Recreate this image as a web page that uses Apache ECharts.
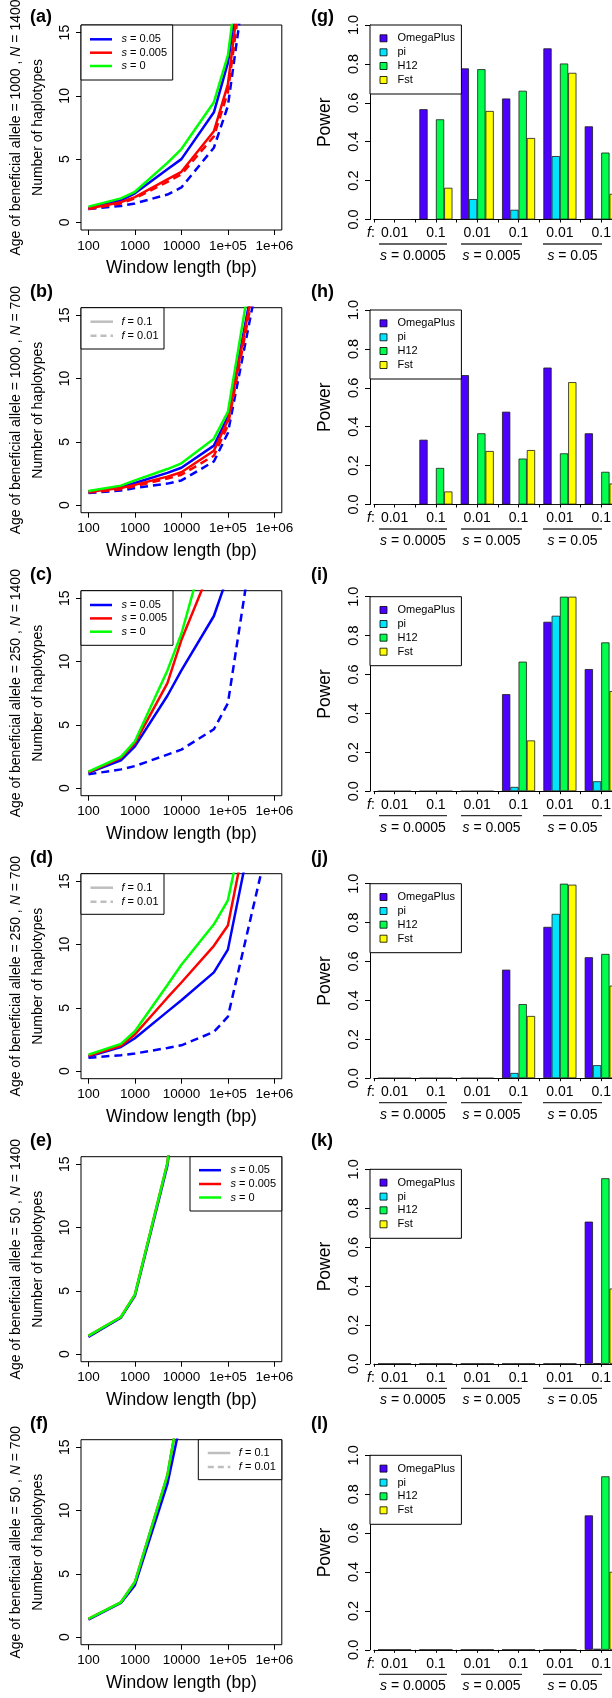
<!DOCTYPE html>
<html>
<head>
<meta charset="utf-8">
<script src="https://cdn.jsdelivr.net/npm/echarts@6/dist/echarts.min.js"></script>
<style>
  html, body { margin: 0; padding: 0; background: #fff; }
  #chart { width: 612px; height: 1698px; }
</style>
</head>
<body>
<div id="chart"></div>
<script>
const FONT = '"Liberation Sans", Arial, Helvetica, sans-serif';
const BLUE = '#0000FF', RED = '#FF0000', GREEN = '#00FF00', GREY = '#BEBEBE';

// window lengths (bp)
const winLen = [100, 500, 1000, 5000, 10000, 50000, 100000, 500000];

// (a) age 1000, N 1400
const a_s05_f1 = [1.15, 1.75, 2.3, 4.2, 5.0, 8.7, 12.6, 30.1];
const a_s05_f01 = [1.05, 1.3, 1.5, 2.2, 2.76, 5.9, 9.2, 27.8];
const a_s005_f1 = [1.1, 1.6, 2.0, 3.4, 4.0, 7.2, 10.9, 31.4];
const a_s005_f01 = [1.05, 1.5, 1.9, 3.2, 3.8, 6.8, 10.3, 29.8];
const a_s0 = [1.25, 1.9, 2.42, 4.7, 5.8, 9.5, 13.2, 32.7];
// (b) age 1000, N 700
const b_s05_f1 = [1.08, 1.42, 1.75, 2.55, 2.95, 4.7, 6.98, 20.7];
const b_s05_f01 = [0.95, 1.15, 1.35, 1.7, 1.95, 3.45, 5.7, 18.9];
const b_s005_f1 = [1.05, 1.35, 1.6, 2.25, 2.6, 4.3, 6.7, 20.3];
const b_s005_f01 = [1.0, 1.25, 1.5, 2.1, 2.4, 3.9, 6.3, 19.8];
const b_s0 = [1.12, 1.54, 1.95, 2.85, 3.3, 5.25, 7.37, 22.8];
// (c) age 250, N 1400
const c_s05_f1 = [1.2, 2.2, 3.3, 7.3, 9.3, 13.6, 16.8, null];
const c_s05_f01 = [1.09, 1.48, 1.74, 2.65, 3.04, 4.65, 6.7, 23.4];
const c_s005_f1 = [1.25, 2.4, 3.55, 8.3, 11.7, 18.0, null, null];
const c_s0 = [1.3, 2.47, 3.7, 9.3, 12.2, 21.4, null, null];
// (d) age 250, N 700
const d_s05_f1 = [1.15, 1.9, 2.6, 4.7, 5.6, 7.8, 9.6, 22.3];
const d_s05_f01 = [1.05, 1.26, 1.39, 1.83, 2.04, 3.1, 4.3, 15.4];
const d_s005_f1 = [1.2, 2.0, 2.9, 5.8, 7.0, 9.9, 11.5, 24.4];
const d_s0 = [1.3, 2.15, 3.15, 6.8, 8.4, 11.6, 13.5, 25.6];
// (e) age 50, N 1400
const e_s05 = [1.35, 2.88, 4.6, 14.9, 24, null, null, null];
const e_s005 = [1.44, 2.93, 4.7, 15.1, 25, null, null, null];
const e_s0 = [1.44, 2.93, 4.7, 15.1, 25, null, null, null];
// (f) age 50, N 700
const f_s05 = [1.38, 2.7, 4.1, 12.1, 17.3, null, null, null];
const f_s005 = [1.44, 2.75, 4.35, 12.8, 19.1, null, null, null];
const f_s0 = [1.44, 2.75, 4.35, 12.8, 19.1, null, null, null];

// power bar charts: groups are (s, f) pairs
const groupF = ['0.01', '0.1', '0.01', '0.1', '0.01', '0.1'];
const groupS = ['0.0005', '0.005', '0.05'];
const methods = ['OmegaPlus', 'pi', 'H12', 'Fst'];
const methodColors = ['#4C00FF', '#00E5FF', '#00FF4D', '#FFFF00'];

const g_omega = [0, 0.567, 0.777, 0.622, 0.88, 0.479];
const g_pi = [0, 0, 0.105, 0.05, 0.326, 0.003];
const g_h12 = [0, 0.515, 0.773, 0.662, 0.802, 0.344];
const g_fst = [0, 0.163, 0.558, 0.419, 0.754, 0.132];

const h_omega = [0, 0.333, 0.665, 0.477, 0.704, 0.366];
const h_pi = [0, 0, 0, 0, 0, 0];
const h_h12 = [0, 0.188, 0.366, 0.236, 0.263, 0.168];
const h_fst = [0, 0.067, 0.275, 0.28, 0.629, 0.108];

const i_omega = [0, 0, 0, 0.499, 0.871, 0.628];
const i_pi = [0, 0, 0, 0.022, 0.902, 0.051];
const i_h12 = [0, 0, 0, 0.666, 1.0, 0.765];
const i_fst = [0, 0, 0, 0.261, 1.0, 0.515];

const j_omega = [0, 0, 0, 0.558, 0.778, 0.622];
const j_pi = [0, 0, 0, 0.027, 0.845, 0.067];
const j_h12 = [0, 0, 0, 0.381, 1.0, 0.639];
const j_fst = [0, 0, 0, 0.32, 0.995, 0.476];

const k_omega = [0, 0, 0, 0, 0, 0.731];
const k_pi = [0, 0, 0, 0, 0, 0.003];
const k_h12 = [0, 0, 0, 0, 0, 0.954];
const k_fst = [0, 0, 0, 0, 0, 0.387];

const l_omega = [0, 0, 0, 0, 0, 0.691];
const l_pi = [0, 0, 0, 0, 0, 0.005];
const l_h12 = [0, 0, 0, 0, 0, 0.892];
const l_fst = [0, 0, 0, 0, 0, 0.401];

const sLegend = ['0.05', '0.005', '0'];
const sLegendColors = [BLUE, RED, GREEN];
const fLegend = ['0.1', '0.01'];
const logLabels = { 2: '100', 3: '1000', 4: '10000', 5: '1e+05', 6: '1e+06' };

// layout (px)
const leftTops = [25, 307.7, 590.7, 873.7, 1156.7, 1439.7];
const rightTops = [25, 310, 596.7, 883.7, 1169.3, 1455.3];
const BOX_L = 81, BOX_W = 200.8, BOX_H = 205;
const LOG_MIN = 1.84, LOG_MAX = 6.16, Y_MIN = -0.6, Y_MAX = 15.6;
const PAD_X = BOX_W * (2 - LOG_MIN) / (LOG_MAX - LOG_MIN);
const PAD_Y = BOX_H * (0 - Y_MIN) / (Y_MAX - Y_MIN);
const BAR_L = 373.9, BAR_W = 248, BAR_H = 194.5, BAR_AXIS_X = 370;

const leftPanels = [
  { tag: '(a)', age: '1000', n: '1400', legend: 's', lg: [81, 91.7, 55, [14.3, 27.7, 41]],
    lines: [[a_s05_f01, BLUE, true], [a_s005_f01, RED, true], [a_s05_f1, BLUE, false], [a_s005_f1, RED, false], [a_s0, GREEN, false]] },
  { tag: '(b)', age: '1000', n: '700', legend: 'f', lg: [81, 83, 41.3, [14, 28]],
    lines: [[b_s05_f01, BLUE, true], [b_s005_f01, RED, true], [b_s05_f1, BLUE, false], [b_s005_f1, RED, false], [b_s0, GREEN, false]] },
  { tag: '(c)', age: '250', n: '1400', legend: 's', lg: [81, 92, 54.6, [14.3, 27.7, 41]],
    lines: [[c_s05_f01, BLUE, true], [c_s05_f1, BLUE, false], [c_s005_f1, RED, false], [c_s0, GREEN, false]] },
  { tag: '(d)', age: '250', n: '700', legend: 'f', lg: [81, 83, 40.6, [14, 28]],
    lines: [[d_s05_f01, BLUE, true], [d_s05_f1, BLUE, false], [d_s005_f1, RED, false], [d_s0, GREEN, false]] },
  { tag: '(e)', age: '50', n: '1400', legend: 's', lg: [190, 91.8, 54.3, [13.5, 27.3, 40.8]],
    lines: [[e_s05, BLUE, false], [e_s005, RED, false], [e_s0, GREEN, false]] },
  { tag: '(f)', age: '50', n: '700', legend: 'f', lg: [198.3, 83.5, 40, [13.3, 27.3]],
    lines: [[f_s05, BLUE, false], [f_s005, RED, false], [f_s0, GREEN, false]] }
];

const rightPanels = [
  { tag: '(g)', vals: [g_omega, g_pi, g_h12, g_fst] },
  { tag: '(h)', vals: [h_omega, h_pi, h_h12, h_fst] },
  { tag: '(i)', vals: [i_omega, i_pi, i_h12, i_fst] },
  { tag: '(j)', vals: [j_omega, j_pi, j_h12, j_fst] },
  { tag: '(k)', vals: [k_omega, k_pi, k_h12, k_fst] },
  { tag: '(l)', vals: [l_omega, l_pi, l_h12, l_fst] }
];

const grids = [], xAxes = [], yAxes = [], series = [], graphic = [];

function richText(x, y, str, size, rot, align) {
  graphic.push({
    type: 'text', x: x, y: y, rotation: rot || 0, z: 100, silent: true,
    style: {
      text: str, fill: '#000', align: align || 'center', verticalAlign: 'middle',
      fontSize: size, fontFamily: FONT,
      rich: {
        i: { fontSize: size, fontFamily: FONT, fontStyle: 'italic', fill: '#000' },
        n: { fontSize: size, fontFamily: FONT, fill: '#000' }
      }
    }
  });
}
function line(x1, y1, x2, y2, color, width, dash) {
  graphic.push({
    type: 'line', z: 100, silent: true,
    shape: { x1: x1, y1: y1, x2: x2, y2: y2 },
    style: { stroke: color, lineWidth: width, lineDash: dash || null }
  });
}
function rect(x, y, w, h, fill, stroke, lw) {
  graphic.push({
    type: 'rect', z: 99, silent: true,
    shape: { x: x, y: y, width: w, height: h },
    style: { fill: fill, stroke: stroke, lineWidth: lw }
  });
}

function labelY(k) { return k === 0 ? 17 : leftTops[k] - 15.5; }

leftPanels.forEach(function (p, k) {
  const T = leftTops[k];
  // frame grid holding the data
  const gBox = grids.length;
  grids.push({ left: BOX_L, top: T, width: BOX_W, height: BOX_H, show: true, outerBoundsMode: 'none',
    borderColor: '#000', borderWidth: 1, backgroundColor: 'transparent' });
  xAxes.push({ gridIndex: gBox, type: 'log', min: Math.pow(10, LOG_MIN), max: Math.pow(10, LOG_MAX), show: false });
  yAxes.push({ gridIndex: gBox, type: 'value', min: Y_MIN, max: Y_MAX, show: false });
  const xi = xAxes.length - 1, yi = yAxes.length - 1;
  // inner grid that carries the ticks
  const gTick = grids.length;
  grids.push({ left: BOX_L + PAD_X, top: T + PAD_Y, outerBoundsMode: 'none',
    width: BOX_W * 4 / (LOG_MAX - LOG_MIN), height: BOX_H * 15 / (Y_MAX - Y_MIN) });
  xAxes.push({ gridIndex: gTick, type: 'log', min: 100, max: 1e6, position: 'bottom', offset: PAD_Y,
    axisLine: { show: false, onZero: false },
    axisTick: { show: true, length: 5, lineStyle: { color: '#000', width: 1 } },
    splitLine: { show: false },
    axisLabel: { color: '#000', fontFamily: FONT, fontSize: 13.5, margin: 9,
      formatter: function (v) { return logLabels[Math.round(Math.log10(v))] || ''; } } });
  yAxes.push({ gridIndex: gTick, type: 'value', min: 0, max: 15, interval: 5, position: 'left', offset: PAD_X,
    axisLine: { show: false, onZero: false },
    axisTick: { show: true, length: 5, lineStyle: { color: '#000', width: 1 } },
    splitLine: { show: false },
    axisLabel: { color: '#000', fontFamily: FONT, fontSize: 14, rotate: 90, margin: 9 } });

  p.lines.forEach(function (ln) {
    series.push({
      type: 'line', xAxisIndex: xi, yAxisIndex: yi, symbol: 'none', silent: true,
      data: winLen.map(function (x, i) { return [x, ln[0][i]]; }),
      lineStyle: { color: ln[1], width: 2.5, type: ln[2] ? [8, 5] : 'solid' }
    });
  });

  // legend
  const lg = p.lg;
  rect(lg[0], T, lg[1], lg[2], '#fff', '#000', 1);
  const names = p.legend === 's' ? sLegend : fLegend;
  names.forEach(function (nm, i) {
    const yy = T + lg[3][i];
    if (p.legend === 's') {
      line(lg[0] + 9, yy, lg[0] + 31, yy, sLegendColors[i], 2.5);
      richText(lg[0] + 40.5, yy, '{i|s}{n| = ' + nm + '}', 11, 0, 'left');
    } else {
      line(lg[0] + 9.5, yy, lg[0] + 32, yy, GREY, 2.5, i === 1 ? [6, 4] : null);
      richText(lg[0] + 40.5, yy, '{i|f}{n| = ' + nm + '}', 11, 0, 'left');
    }
  });

  // titles
  richText(38, T + BOX_H / 2, '{n|Number of haplotypes}', 14, Math.PI / 2);
  richText(16, T + BOX_H / 2, '{n|Age of beneficial allele = ' + p.age + ' , }{i|N}{n| = ' + p.n + '}', 14, Math.PI / 2);
  richText(BOX_L + BOX_W / 2, T + 243, '{n|Window length (bp)}', 17.5);
  graphic.push({ type: 'text', x: 30, y: labelY(k), z: 100, silent: true,
    style: { text: p.tag, fill: '#000', font: 'bold 18px ' + FONT, align: 'left', verticalAlign: 'middle' } });
});

const underlines = [[379, 447], [461, 522], [543, 602]];
const sLabelX = [413, 491.5, 572.5];

rightPanels.forEach(function (p, k) {
  const T = rightTops[k];
  const g = grids.length;
  grids.push({ left: BAR_L, top: T, width: BAR_W, height: BAR_H, outerBoundsMode: 'none', containLabel: false });
  xAxes.push({ gridIndex: g, type: 'category', data: groupF, position: 'bottom',
    axisLine: { show: true, onZero: false, lineStyle: { color: '#000', width: 1 } },
    axisTick: { show: true, alignWithLabel: true, length: 3, lineStyle: { color: '#000' } },
    axisLabel: { interval: 0, color: '#000', fontFamily: FONT, fontSize: 14, margin: 7 } });
  const xi = xAxes.length - 1;
  xAxes.push({ gridIndex: g, type: 'category', data: groupF, position: 'bottom',
    axisLine: { show: false, onZero: false },
    axisTick: { show: true, interval: 0, length: 3, lineStyle: { color: '#000' } },
    axisLabel: { show: false } });
  yAxes.push({ gridIndex: g, type: 'value', min: 0, max: 1, interval: 0.2, position: 'left',
    offset: BAR_L - BAR_AXIS_X,
    axisLine: { show: true, onZero: false, lineStyle: { color: '#000', width: 1 } },
    axisTick: { show: true, length: 5, lineStyle: { color: '#000' } },
    splitLine: { show: false },
    axisLabel: { color: '#000', fontFamily: FONT, fontSize: 14.5, rotate: 90, margin: 9,
      formatter: function (v) { return v.toFixed(1); } } });
  const yi = yAxes.length - 1;

  methods.forEach(function (m, j) {
    series.push({
      type: 'bar', name: m, xAxisIndex: xi, yAxisIndex: yi, silent: true,
      data: p.vals[j], barGap: '0%', barCategoryGap: '20%',
      itemStyle: { color: methodColors[j], borderColor: '#1a1a1a', borderWidth: 0.8 }
    });
  });

  // legend
  rect(BAR_AXIS_X, T, 91.4, 69, '#fff', '#000', 1);
  [13.3, 27.3, 41, 55].forEach(function (dy, j) {
    rect(380, T + dy - 3.5, 7, 7, methodColors[j], '#000', 0.8);
    richText(397.5, T + dy, '{n|' + methods[j] + '}', 11, 0, 'left');
  });

  const y0 = T + BAR_H;
  richText(371, y0 + 14, '{i|f}{n|:}', 14);
  underlines.forEach(function (u) { line(u[0], y0 + 24.5, u[1], y0 + 24.5, '#333', 1.3); });
  groupS.forEach(function (s, i) { richText(sLabelX[i], y0 + 36.5, '{i|s}{n| = ' + s + '}', 14); });

  richText(325, T + BAR_H / 2, '{n|Power}', 17.5, Math.PI / 2);
  graphic.push({ type: 'text', x: 311, y: labelY(k), z: 100, silent: true,
    style: { text: p.tag, fill: '#000', font: 'bold 18px ' + FONT, align: 'left', verticalAlign: 'middle' } });
});

const chart = echarts.init(document.getElementById('chart'), null, { renderer: 'canvas' });
chart.setOption({
  backgroundColor: '#fff',
  animation: false,
  grid: grids,
  xAxis: xAxes,
  yAxis: yAxes,
  series: series,
  graphic: graphic
});
</script>
</body>
</html>
